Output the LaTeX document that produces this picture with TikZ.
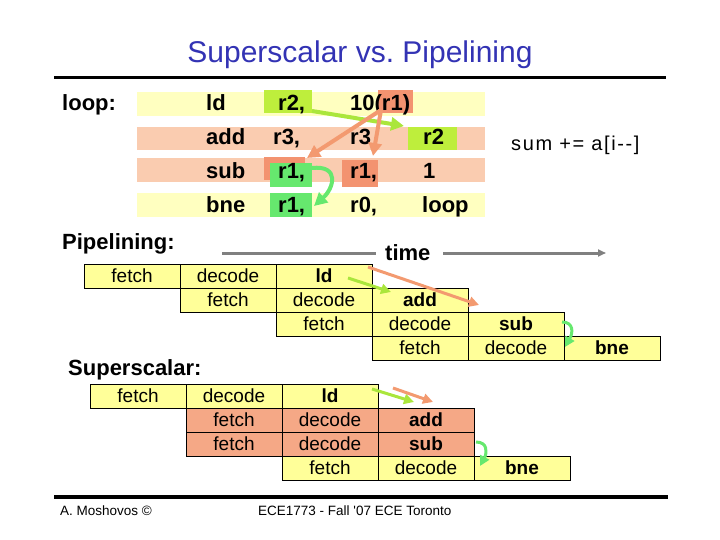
\documentclass[tikz,border=0pt]{standalone}
\usepackage{fontspec}
\setmainfont{Liberation Sans}
\newfontfamily\spacedsans[LetterSpace=8]{Liberation Sans}
\usetikzlibrary{arrows.meta}
\definecolor{titleblue}{RGB}{51,51,180}
\definecolor{tyellow}{RGB}{255,255,192}
\definecolor{tsalmon}{RGB}{250,204,176}
\definecolor{dsalmon}{RGB}{243,147,112}
\definecolor{limeg}{RGB}{190,238,60}
\definecolor{limea}{RGB}{170,230,60}
\definecolor{greenb}{RGB}{102,232,110}
\definecolor{cyellow}{RGB}{255,255,153}
\definecolor{csalmon}{RGB}{245,168,134}
\definecolor{asalmon}{RGB}{243,154,112}
\definecolor{tgray}{RGB}{128,128,128}
\begin{document}
\frenchspacing
\begin{tikzpicture}[x=1pt,y=-1pt,
  tt/.style={anchor=base west, inner sep=0, font=\bfseries\fontsize{22}{26}\selectfont},
  lbl/.style={anchor=base west, inner sep=0, font=\bfseries\fontsize{22}{26}\selectfont},
  cell/.style={draw, line width=0.8pt, fill=cyellow, minimum width=96pt, minimum height=24pt,
    inner sep=0, font=\fontsize{19}{22}\selectfont, text height=13.6pt, text depth=0pt},
  scell/.style={cell, fill=csalmon},
  arrbig/.style={line width=4pt, -{Triangle[length=13pt,width=13pt]}},
  arrsm/.style={line width=3pt, -{Triangle[length=10pt,width=10pt]}},
  foot/.style={anchor=base west, inner sep=0, font=\fontsize{13.5}{16}\selectfont}
]
\useasboundingbox (0,0) rectangle (720,540);
% title and rules
\node[font=\fontsize{30}{36}\selectfont, text=titleblue] (title) at (360,55) {Superscalar vs.\ Pipelining};
\draw[line width=3pt] (54,78) -- (666,78);
\draw[line width=3.5pt] (54,497) -- (668,497);
\node[foot] (auth) at (60,515) {A. Moshovos ©};
\node[foot] (course) at (258,515) {ECE1773 - Fall \textquotesingle 07 ECE Toronto};

% instruction table bands
\fill[tyellow] (137,92) rectangle (485,116);
\fill[tsalmon] (137,127) rectangle (485,150);
\fill[tsalmon] (137,158) rectangle (485,182);
\fill[tyellow] (137,193) rectangle (485,217);
% highlights
\fill[limeg] (264,90) rectangle (312,113);
\fill[dsalmon] (378,90) rectangle (413,113);
\fill[limeg] (408,127) rectangle (457,150);
\fill[dsalmon] (264,157) rectangle (305,180);
\fill[greenb] (270,163) rectangle (312,187);
\fill[dsalmon] (342,160) rectangle (378,187);
\fill[greenb] (270,193) rectangle (312,217);

\node[lbl] (loop) at (62,111) {loop:};
\node[tt] (i1) at (206,111) {ld};
\node[tt] (i1a) at (278,111) {r2,};
\node[tt] (i1b) at (350,111) {10(r1)};
\node[tt] (i2) at (206,145) {add};
\node[tt] (i2a) at (273,145) {r3,};
\node[tt] (i2b) at (350,145) {r3};
\node[tt] (i2c) at (423,145) {r2};
\node[tt] (i3) at (206,179) {sub};
\node[tt] (i3a) at (278,179) {r1,};
\node[tt] (i3b) at (350,179) {r1,};
\node[tt] (i3c) at (423,179) {1};
\node[tt] (i4) at (206,213) {bne};
\node[tt] (i4a) at (278,213) {r1,};
\node[tt] (i4b) at (350,213) {r0,};
\node[tt] (i4c) at (422,213) {loop};

\node[anchor=base west, inner sep=0, font=\spacedsans\fontsize{20}{24}\selectfont] (sum) at (511,151) {sum += a[i-{}-]};

% dependence arrows in table
\coordinate (t1s) at (312,111);
\coordinate (t1e) at (404,126);
\coordinate (t2s) at (381,110);
\coordinate (t2e) at (307,158);
\coordinate (t3e) at (373,156);
\coordinate (t4s) at (312,168);
\coordinate (t4e) at (314,206);
\draw[arrbig, limea] (t1s) -- (t1e);
\draw[arrbig, asalmon] (t2s) -- (t2e);
\draw[arrbig, asalmon] (t2s) -- (t3e);
\draw[arrbig, greenb] (t4s) .. controls (340,165) and (334,188) .. (t4e);

% Pipelining
\node[lbl] (pipe) at (62,249) {Pipelining:};
\node[lbl] (time) at (385,260) {time};
\coordinate (tl) at (222,253);
\coordinate (tm) at (376,253);
\coordinate (tn) at (443,253);
\coordinate (tr) at (606,253);
\draw[line width=3pt, tgray] (tl) -- (tm);
\draw[line width=3pt, tgray, -{Triangle[length=8pt,width=7pt]}] (tn) -- (tr);

\node[cell] (pa1) at (132,276) {fetch};
\node[cell] (pa2) at (228,276) {decode};
\node[cell, font=\bfseries\fontsize{19}{22}\selectfont] (pa3) at (324,276) {ld};
\node[cell] (pb1) at (228,300) {fetch};
\node[cell] (pb2) at (324,300) {decode};
\node[cell, font=\bfseries\fontsize{19}{22}\selectfont] (pb3) at (420,300) {add};
\node[cell] (pc1) at (324,324) {fetch};
\node[cell] (pc2) at (420,324) {decode};
\node[cell, font=\bfseries\fontsize{19}{22}\selectfont] (pc3) at (516,324) {sub};
\node[cell] (pd1) at (420,348) {fetch};
\node[cell] (pd2) at (516,348) {decode};
\node[cell, font=\bfseries\fontsize{19}{22}\selectfont] (pd3) at (612,348) {bne};

\coordinate (p1s) at (348,278);
\coordinate (p1e) at (391,292);
\coordinate (p2s) at (368,267);
\coordinate (p2e) at (479,305);
\coordinate (p3s) at (562,322);
\coordinate (p3e) at (565,347);
\draw[arrsm, limea] (p1s) -- (p1e);
\draw[arrsm, asalmon] (p2s) -- (p2e);
\draw[arrsm, greenb] (p3s) .. controls (574,322) and (573,333) .. (p3e);

% Superscalar
\node[lbl] (sup) at (68,375) {Superscalar:};
\node[cell] (sa1) at (138,396) {fetch};
\node[cell] (sa2) at (234,396) {decode};
\node[cell, font=\bfseries\fontsize{19}{22}\selectfont] (sa3) at (330,396) {ld};
\node[scell] (sb1) at (234,420) {fetch};
\node[scell] (sb2) at (330,420) {decode};
\node[scell, font=\bfseries\fontsize{19}{22}\selectfont] (sb3) at (426,420) {add};
\node[scell] (sc1) at (234,444) {fetch};
\node[scell] (sc2) at (330,444) {decode};
\node[scell, font=\bfseries\fontsize{19}{22}\selectfont] (sc3) at (426,444) {sub};
\node[cell] (sd1) at (330,468) {fetch};
\node[cell] (sd2) at (426,468) {decode};
\node[cell, font=\bfseries\fontsize{19}{22}\selectfont] (sd3) at (522,468) {bne};

\coordinate (s1s) at (372,389);
\coordinate (s1e) at (414,402);
\coordinate (s2s) at (393,388);
\coordinate (s2e) at (433,402);
\coordinate (s3s) at (476,442);
\coordinate (s3e) at (480,466);
\draw[arrsm, limea] (s1s) -- (s1e);
\draw[arrsm, asalmon] (s2s) -- (s2e);
\draw[arrsm, greenb] (s3s) .. controls (488,442) and (487,453) .. (s3e);
\end{tikzpicture}
\end{document}
